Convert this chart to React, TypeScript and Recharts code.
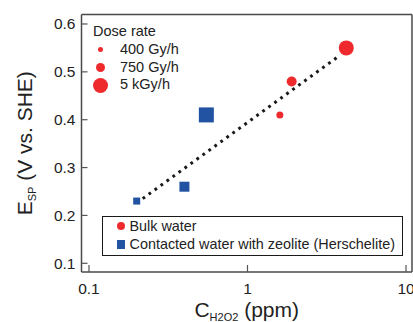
import React from "react";
import { ScatterChart, Scatter, XAxis, YAxis, Label } from "recharts";

// dose rates used for marker size (same order in both series)
const doseRates = ["400 Gy/h", "750 Gy/h", "5 kGy/h"];

const bulkConc = [1.6, 1.9, 4.2];
const bulkEsp = [0.41, 0.48, 0.55];
const bulkDose = ["400 Gy/h", "750 Gy/h", "5 kGy/h"];

const zeoliteConc = [0.2, 0.4, 0.55];
const zeoliteEsp = [0.23, 0.26, 0.41];
const zeoliteDose = ["400 Gy/h", "750 Gy/h", "5 kGy/h"];

// dotted guide line
const fitConc = [0.2, 3.7];
const fitEsp = [0.226, 0.531];

const seriesNames = ["Bulk water", "Contacted water with zeolite (Herschelite)"];

const xMajorTicks = [0.1, 1, 10];
const xMinorTicks = [0.2, 0.3, 0.4, 0.5, 0.6, 0.7, 0.8, 0.9, 2, 3, 4, 5, 6, 7, 8, 9];
const yTicks = [0.1, 0.2, 0.3, 0.4, 0.5, 0.6];

const RED = "#ee2a2c";
const BLUE = "#2253a3";
const FONT = '"Liberation Sans", Arial, Helvetica, sans-serif';

const W = 413;
const H = 322;
const margin = { top: 14.5, right: 1, bottom: 50, left: 81.5 };
const xDomain = [0.0897, 10.91];
const yDomain = [0.0818, 0.6198];
// axes get a near-zero size so that all of them sit on the frame edges
const THIN = 0.001;

const markerSize: Record<string, number> = { "400 Gy/h": 7, "750 Gy/h": 10, "5 kGy/h": 15 };
const legendSize: Record<string, number> = { "400 Gy/h": 5.5, "750 Gy/h": 9, "5 kGy/h": 15 };

const bulkData = bulkConc.map((x, i) => ({ x, y: bulkEsp[i], dose: bulkDose[i] }));
const zeoliteData = zeoliteConc.map((x, i) => ({ x, y: zeoliteEsp[i], dose: zeoliteDose[i] }));
const fitData = fitConc.map((x, i) => ({ x, y: fitEsp[i] }));

const axisLine = { stroke: "#4a4a4a", strokeWidth: 1.5 };
const tickLine = { stroke: "#555", strokeWidth: 1.2 };

const RedDot = (p: any) => {
  const s = markerSize[p.payload.dose];
  return <circle cx={p.cx} cy={p.cy} r={s / 2} fill={RED} />;
};

const BlueSquare = (p: any) => {
  const s = markerSize[p.payload.dose];
  return <rect x={p.cx - s / 2} y={p.cy - s / 2} width={s} height={s} fill={BLUE} />;
};

const XTitle = (props: any) => {
  const vb = props.viewBox;
  return (
    <text x={vb.x + vb.width / 2} y={vb.y + 45.5} textAnchor="middle" fill="#222" fontSize={21} fontFamily={FONT}>
      C
      <tspan fontSize={11} dy={4}>H2O2</tspan>
      <tspan dy={-4}> (ppm)</tspan>
    </text>
  );
};

const YTitle = (props: any) => {
  const vb = props.viewBox;
  const cx = 32.3;
  const cy = vb.y + vb.height / 2;
  return (
    <text x={cx} y={cy} transform={`rotate(-90, ${cx}, ${cy})`} textAnchor="middle" fill="#222" fontSize={21} fontFamily={FONT}>
      E
      <tspan fontSize={11} dy={4}>SP</tspan>
      <tspan dy={-4}> (V vs. SHE)</tspan>
    </text>
  );
};

export default function App() {
  return (
    <div style={{ position: "absolute", left: 0, top: 0, width: W, height: H, fontFamily: FONT, background: "#fff" }}>
      <ScatterChart width={W} height={H} margin={margin}>
        <XAxis
          xAxisId="x"
          dataKey="x"
          type="number"
          scale="log"
          domain={xDomain}
          allowDataOverflow
          ticks={xMajorTicks}
          interval={0}
          height={THIN}
          tickSize={-7}
          tickMargin={18}
          tick={{ fill: "#222", fontSize: 15.5, fontFamily: FONT }}
          tickFormatter={(v) => String(v)}
          axisLine={axisLine}
          tickLine={tickLine}
        >
          <Label content={XTitle} />
        </XAxis>
        <XAxis xAxisId="xm" type="number" scale="log" domain={xDomain} allowDataOverflow ticks={xMinorTicks} interval={0} height={THIN} tickSize={-4} tick={false} axisLine={false} tickLine={tickLine} />
        <XAxis xAxisId="t" orientation="top" type="number" scale="log" domain={xDomain} allowDataOverflow ticks={xMajorTicks} interval={0} height={THIN} tickSize={-7} tick={false} axisLine={axisLine} tickLine={tickLine} />
        <XAxis xAxisId="tm" orientation="top" type="number" scale="log" domain={xDomain} allowDataOverflow ticks={xMinorTicks} interval={0} height={THIN} tickSize={-4} tick={false} axisLine={false} tickLine={tickLine} />
        <YAxis
          yAxisId="y"
          dataKey="y"
          type="number"
          domain={yDomain}
          allowDataOverflow
          ticks={yTicks}
          interval={0}
          width={THIN}
          tickSize={-6}
          tickMargin={12}
          tick={{ fill: "#222", fontSize: 15.5, fontFamily: FONT }}
          tickFormatter={(v) => v.toFixed(1)}
          axisLine={axisLine}
          tickLine={tickLine}
        >
          <Label content={YTitle} />
        </YAxis>
        <YAxis yAxisId="r" orientation="right" type="number" domain={yDomain} allowDataOverflow ticks={yTicks} interval={0} width={THIN} tickSize={-6} tick={false} axisLine={axisLine} tickLine={tickLine} />

        <Scatter
          xAxisId="x"
          yAxisId="y"
          data={fitData}
          line={{ stroke: "#1a1a1a", strokeWidth: 3, strokeDasharray: "2.8 4.6" }}
          shape={() => <g />}
          isAnimationActive={false}
        />
        <Scatter xAxisId="x" yAxisId="y" name={seriesNames[0]} data={bulkData} shape={RedDot} isAnimationActive={false} />
        <Scatter xAxisId="x" yAxisId="y" name={seriesNames[1]} data={zeoliteData} shape={BlueSquare} isAnimationActive={false} />
      </ScatterChart>

      {/* dose-rate size legend */}
      <div style={{ position: "absolute", left: 0, top: 23.15, fontSize: 14.5, lineHeight: "17.7px", color: "#222" }}>
        <div style={{ paddingLeft: 93 }}>Dose rate</div>
        {doseRates.map((d) => (
          <div key={d} style={{ display: "flex", alignItems: "center", height: 17.7 }}>
            <span style={{ marginLeft: 88.7, width: 24, display: "flex", justifyContent: "center" }}>
              <span style={{ width: legendSize[d], height: legendSize[d], borderRadius: "50%", background: RED }} />
            </span>
            <span style={{ marginLeft: 7.3, whiteSpace: "nowrap" }}>{d}</span>
          </div>
        ))}
      </div>

      {/* series legend */}
      <div
        style={{
          position: "absolute",
          left: 101.7,
          top: 215.7,
          width: 301.3,
          height: 40.3,
          boxSizing: "border-box",
          border: "1.5px solid #1a1a1a",
          paddingTop: 0.35,
          fontSize: 14.4,
          color: "#222",
          background: "#fff",
        }}
      >
        {seriesNames.map((n, i) => (
          <div key={n} style={{ display: "flex", alignItems: "center", height: 18.3, lineHeight: "18.3px" }}>
            <span style={{ marginLeft: 12.5, width: 12, display: "flex", justifyContent: "center" }}>
              <span style={{ width: 8.6, height: 8.6, borderRadius: i === 0 ? "50%" : 0, background: i === 0 ? RED : BLUE }} />
            </span>
            <span style={{ marginLeft: 2.3, whiteSpace: "nowrap" }}>{n}</span>
          </div>
        ))}
      </div>
    </div>
  );
}
